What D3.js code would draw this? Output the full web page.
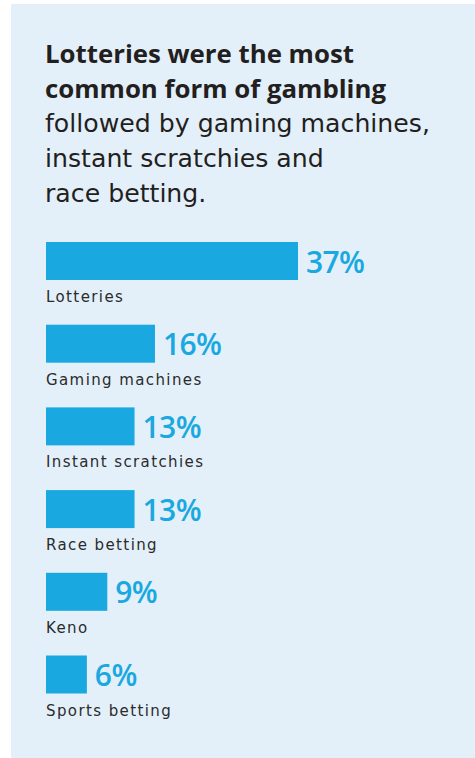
<!DOCTYPE html>
<html>
<head>
<meta charset="utf-8">
<script src="https://cdn.jsdelivr.net/npm/d3@7"></script>
<style>
  html, body { margin: 0; padding: 0; background: #ffffff; }
  svg { display: block; }
</style>
</head>
<body>
<script>
const categories = ["Lotteries", "Gaming machines", "Instant scratchies", "Race betting", "Keno", "Sports betting"];
const values = [37, 16, 13, 13, 9, 6];
const titleBold = ["Lotteries were the most", "common form of gambling"];
const titleRegular = ["followed by gaming machines,", "instant scratchies and", "race betting."];

const W = 475, H = 758;
const svg = d3.select("body").append("svg").attr("width", W).attr("height", H);

svg.append("rect").attr("x", 11).attr("y", 4).attr("width", W - 11).attr("height", H - 4).attr("fill", "#e3f0fa");

const boldFont = "'Open Sans', sans-serif";
const regFont = "'DejaVu Sans', sans-serif";
const titleLines = titleBold.map(t => ({t, b: true})).concat(titleRegular.map(t => ({t, b: false})));
svg.append("g").selectAll("text").data(titleLines).join("text")
  .attr("x", 45)
  .attr("y", (d, i) => 63 + i * 34.7)
  .attr("font-family", d => d.b ? boldFont : regFont)
  .attr("font-size", d => d.b ? 25.8 : 25.2)
  .attr("font-weight", d => d.b ? 700 : 400)
  .attr("fill", "#231f20")
  .text(d => d.t);

const x = d3.scaleLinear().domain([0, 37]).range([0, 252]);
const y = d3.scaleBand().domain(categories).range([242, 242 + 82.7 * 6]).paddingInner(0).paddingOuter(0);
const barH = 38;

const g = svg.append("g").attr("transform", "translate(46,0)");
const rows = g.selectAll("g.row").data(categories.map((c, i) => ({c, v: values[i]}))).join("g").attr("class", "row");

rows.append("rect")
  .attr("x", 0)
  .attr("y", d => y(d.c))
  .attr("width", d => x(d.v))
  .attr("height", barH)
  .attr("fill", "#19a8e0");

rows.append("text")
  .attr("x", d => x(d.v) + 8)
  .attr("y", d => y(d.c) + 30.5)
  .attr("font-family", "'Open Sans', sans-serif")
  .attr("font-size", 30)
  .attr("font-weight", 600)
  .attr("letter-spacing", -0.6)
  .attr("fill", "#19a8e0")
  .text(d => d.v + "%");

rows.append("text")
  .attr("x", 0)
  .attr("y", d => y(d.c) + 60)
  .attr("font-family", regFont)
  .attr("font-size", 15)
  .attr("letter-spacing", 1.4)
  .attr("fill", "#2b2b2b")
  .text(d => d.c);
</script>
</body>
</html>
